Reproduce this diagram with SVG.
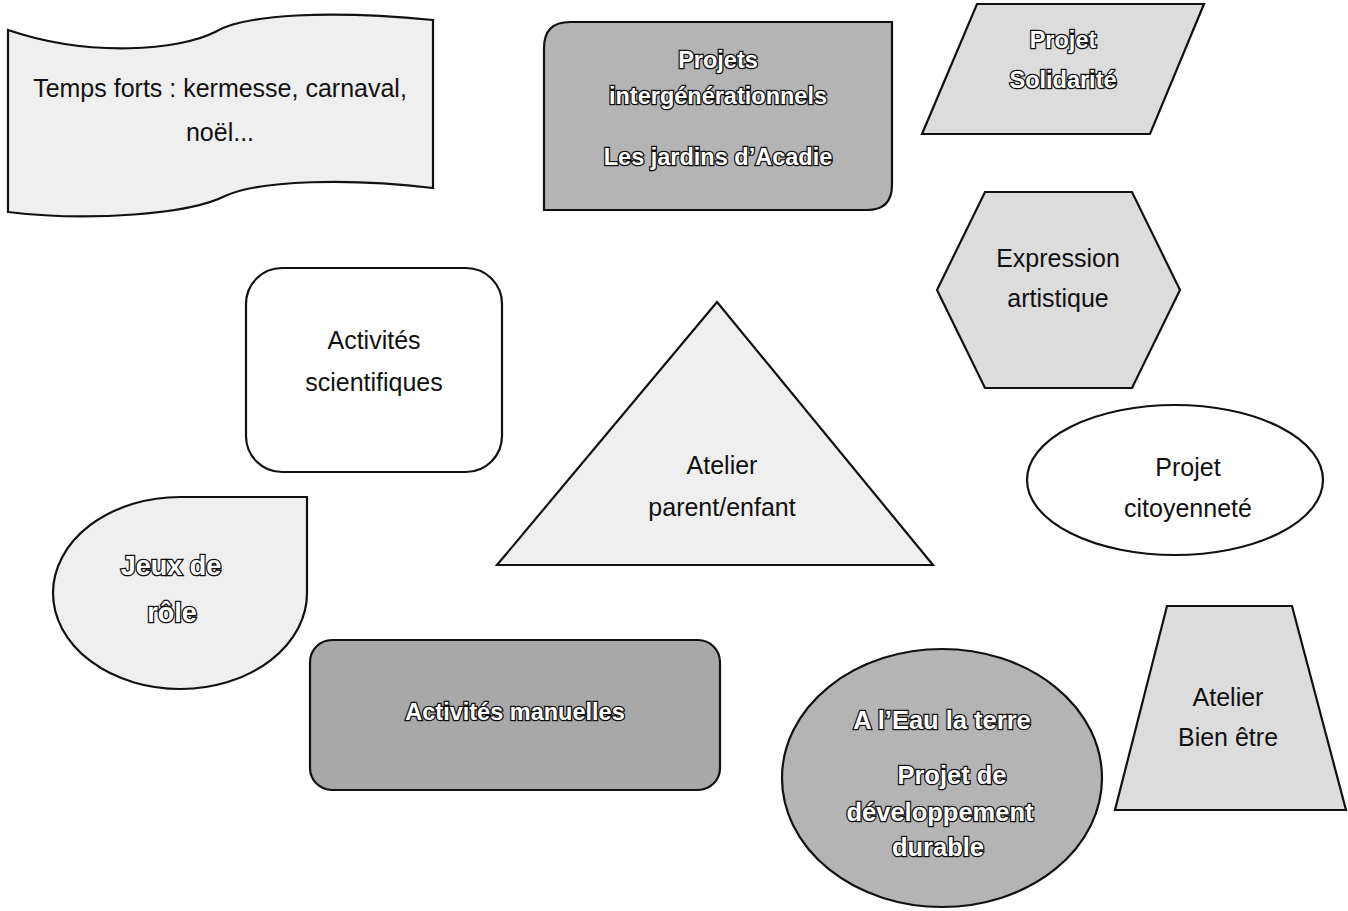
<svg xmlns="http://www.w3.org/2000/svg" width="1348" height="911" viewBox="0 0 1348 911">
<style>
.sh{stroke:#111;stroke-width:2.2}
.light{fill:#efefef}
.mid{fill:#dcdcdc}
.dark{fill:#b4b4b4}
.white{fill:#fff}
.t{font-family:"Liberation Sans",Arial,sans-serif;font-size:25px;text-anchor:middle;fill:#111}
.o{font-family:"Liberation Sans",Arial,sans-serif;font-size:23.5px;font-weight:bold;text-anchor:middle;fill:#fff;stroke:#111;stroke-width:2.6;paint-order:stroke}
.big{font-size:25.5px}
.jr{font-size:27px}
</style>
<rect width="1348" height="911" fill="#fff"/>
<g id="connectors"/>
<g id="temps-forts">
<path class="sh light" d="M8,30 C90,58 180,50 215,32 C245,14 330,10 433,20 L433,188 C350,178 260,180 225,196 C190,214 90,222 8,212 Z"/>
<text class="t" x="220" y="97">Temps forts : kermesse, carnaval,</text>
<text class="t" x="220" y="141">noël...</text>
</g>
<g id="projets-intergenerationnels">
<path class="sh dark" d="M570,22 L892,22 L892,185 Q892,210 867,210 L544,210 L544,48 Q544,22 570,22 Z"/>
<text class="o" x="718" y="68">Projets</text>
<text class="o" x="718" y="104">intergénérationnels</text>
<text class="o" x="718" y="165">Les jardins d’Acadie</text>
</g>
<g id="projet-solidarite">
<path class="sh mid" d="M977,4 L1204,4 L1150,134 L922,134 Z"/>
<text class="o" x="1063" y="48">Projet</text>
<text class="o" x="1063" y="88">Solidarité</text>
</g>
<g id="expression-artistique">
<path class="sh mid" d="M985,192 L1132,192 L1180,290 L1132,388 L985,388 L937,290 Z"/>
<text class="t" x="1058" y="267">Expression</text>
<text class="t" x="1058" y="307">artistique</text>
</g>
<g id="activites-scientifiques">
<rect class="sh white" x="246" y="268" width="256" height="204" rx="36"/>
<text class="t" x="374" y="349">Activités</text>
<text class="t" x="374" y="391">scientifiques</text>
</g>
<g id="atelier-parent-enfant">
<path class="sh light" d="M717,302 L933,565 L497,565 Z"/>
<text class="t" x="722" y="474">Atelier</text>
<text class="t" x="722" y="516">parent/enfant</text>
</g>
<g id="projet-citoyennete">
<ellipse class="sh white" cx="1175" cy="480" rx="148" ry="75"/>
<text class="t" x="1188" y="476">Projet</text>
<text class="t" x="1188" y="517">citoyenneté</text>
</g>
<g id="jeux-de-role">
<path class="sh light" d="M180,497 L307,497 L307,592 A127,96 0 1 1 180,497 Z"/>
<text class="o jr" x="171" y="575">Jeux de</text>
<text class="o jr" x="172" y="622">rôle</text>
</g>
<g id="activites-manuelles">
<rect class="sh" x="310" y="640" width="410" height="150" rx="22" fill="#a8a8a8"/>
<text class="o" x="515" y="720">Activités manuelles</text>
</g>
<g id="eau-terre">
<ellipse class="sh dark" cx="942" cy="778" rx="160" ry="129"/>
<text class="o big" x="942" y="729">A l’Eau la terre</text>
<text class="o big" x="952" y="784">Projet de</text>
<text class="o big" x="940" y="821">développement</text>
<text class="o big" x="938" y="856">durable</text>
</g>
<g id="atelier-bien-etre">
<path class="sh mid" d="M1167,606 L1292,606 L1346,810 L1115,810 Z"/>
<text class="t" x="1228" y="706">Atelier</text>
<text class="t" x="1228" y="746">Bien être</text>
</g>
</svg>
